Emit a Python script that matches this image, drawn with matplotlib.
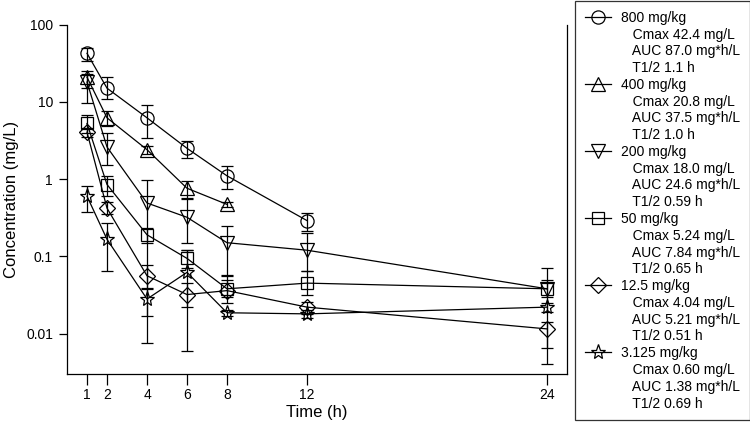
import matplotlib
matplotlib.use("Agg")
import matplotlib.pyplot as plt
from matplotlib.lines import Line2D
from matplotlib.ticker import FixedLocator, NullLocator, FixedFormatter

plt.rcParams['font.family'] = ['Liberation Sans', 'DejaVu Sans']

times = [1, 2, 4, 6, 8, 12, 24]

# 800 mg/kg (no data at 24 h)
c800 = [42.4, 15.0, 6.2, 2.5, 1.1, 0.29]
c800_hi = [50, 21, 9.0, 3.1, 1.48, 0.36]
c800_lo = [34, 11, 3.4, 1.9, 0.75, 0.21]

# 400 mg/kg (up to 8 h)
c400 = [20.8, 6.2, 2.4, 0.76, 0.47]
c400_hi = [25, 7.6, 2.7, 0.95, 0.50]
c400_lo = [15, 4.9, 2.1, 0.57, 0.43]

c200 = [18.0, 2.6, 0.49, 0.32, 0.15, 0.12, 0.038]
c200_hi = [23, 4.0, 0.97, 0.55, 0.25, 0.20, 0.05]
c200_lo = [9.5, 1.5, 0.017, 0.15, 0.055, 0.065, 0.03]

c50 = [5.24, 0.85, 0.19, 0.094, 0.038, 0.045, 0.038]
c50_hi = [6.7, 1.1, 0.23, 0.12, 0.058, 0.065, 0.071]
c50_lo = [3.9, 0.6, 0.15, 0.07, 0.03, 0.032, 0.0066]

c12 = [4.04, 0.42, 0.056, 0.032, 0.036, 0.022, 0.0115]
c12_hi = [4.6, 0.5, 0.077, 0.045, 0.05, 0.026, 0.014]
c12_lo = [3.5, 0.35, 0.038, 0.022, 0.025, 0.018, 0.004]

c3 = [0.60, 0.166, 0.028, 0.062, 0.0186, 0.018, 0.022]
c3_hi = [0.82, 0.27, 0.039, 0.12, 0.020, 0.020, 0.025]
c3_lo = [0.38, 0.065, 0.0075, 0.006, 0.017, 0.016, 0.019]

doses = ["800 mg/kg", "400 mg/kg", "200 mg/kg", "50 mg/kg", "12.5 mg/kg", "3.125 mg/kg"]
cmax = ["Cmax 42.4 mg/L", "Cmax 20.8 mg/L", "Cmax 18.0 mg/L",
        "Cmax 5.24 mg/L", "Cmax 4.04 mg/L", "Cmax 0.60 mg/L"]
auc = ["AUC 87.0 mg*h/L", "AUC 37.5 mg*h/L", "AUC 24.6 mg*h/L",
       "AUC 7.84 mg*h/L", "AUC 5.21 mg*h/L", "AUC 1.38 mg*h/L"]
half = ["T1/2 1.1 h", "T1/2 1.0 h", "T1/2 0.59 h",
        "T1/2 0.65 h", "T1/2 0.51 h", "T1/2 0.69 h"]
markers = ["o", "^", "v", "s", "D", "*"]
msizes = [9.5, 9.5, 9.5, 8.5, 8, 11]

series = [(c800, c800_hi, c800_lo), (c400, c400_hi, c400_lo),
          (c200, c200_hi, c200_lo), (c50, c50_hi, c50_lo),
          (c12, c12_hi, c12_lo), (c3, c3_hi, c3_lo)]

fig = plt.figure(figsize=(7.5, 4.24), dpi=100)
ax = fig.add_axes([67 / 750, 50 / 424, 500 / 750, 349.5 / 424])

for (vals, hi, lo), m, ms in zip(series, markers, msizes):
    t = times[:len(vals)]
    yerr = [[v - l for v, l in zip(vals, lo)], [h - v for v, h in zip(vals, hi)]]
    ax.errorbar(t, vals, yerr=yerr, color="black", lw=0.9, elinewidth=0.9,
                capsize=4.5, capthick=0.9, marker=m, ms=ms, mfc="none",
                mec="black", mew=0.9)

ax.set_yscale("log")
ax.set_ylim(0.003, 100)
ax.set_xlim(0, 25)
ax.yaxis.set_major_locator(FixedLocator([0.01, 0.1, 1, 10, 100]))
ax.yaxis.set_major_formatter(FixedFormatter(["0.01", "0.1", "1", "10", "100"]))
ax.yaxis.set_minor_locator(NullLocator())
ax.set_xticks(times)
ax.tick_params(direction="out", length=6, width=0.9, labelsize=10, pad=4)
ax.tick_params(axis="x", length=8, pad=2)
ax.spines["top"].set_visible(False)
for s in ["left", "right", "bottom"]:
    ax.spines[s].set_linewidth(0.9)
ax.set_xlabel("Time (h)", fontsize=12, labelpad=2)
ax.set_ylabel("Concentration (mg/L)", fontsize=12, labelpad=5)

handles = []
labels = []
blank = Line2D([], [], linestyle="none")
for i in range(6):
    handles.append(Line2D([], [], color="black", lw=0.9, marker=markers[i],
                          ms=msizes[i], mfc="none", mec="black", mew=0.9))
    labels.append(doses[i])
    for txt in (cmax[i], auc[i], half[i]):
        handles.append(blank)
        labels.append("   " + txt)

leg = fig.legend(handles, labels, loc="upper left",
                 bbox_to_anchor=(575 / 750, 1 - 1 / 424), fontsize=10,
                 frameon=True, fancybox=False, edgecolor="black",
                 handlelength=1.9, handletextpad=0.7, labelspacing=0.2,
                 borderpad=0.7, borderaxespad=0)
leg.get_frame().set_linewidth(0.9)

fig.savefig("out.png", dpi=100)
